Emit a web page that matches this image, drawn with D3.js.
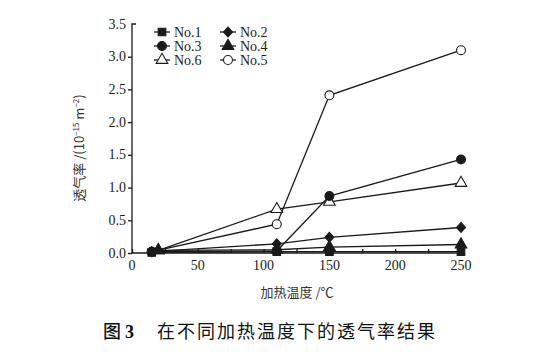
<!DOCTYPE html>
<html><head><meta charset="utf-8">
<script src="https://cdn.jsdelivr.net/npm/d3@7"></script>
<style>body{margin:0;background:#fff}svg{display:block}</style>
</head><body><svg id="c" width="534" height="356"></svg>
<script>
const seriesNames = ["No.1","No.2","No.3","No.4","No.6","No.5"];
const temps1 = [15,110,150,250];
const temps2 = [20,110,150,250];
const no1 = [0.01,0.02,0.02,0.02];
const no2 = [0.02,0.14,0.24,0.39];
const no3 = [0.02,0.03,0.87,1.43];
const no4 = [0.04,0.05,0.09,0.13];
const no5 = [0.02,0.44,2.41,3.10];
const no6 = [0.04,0.67,0.78,1.07];
const xTicks = [0,50,100,150,200,250];
const yTicks = [0,0.5,1,1.5,2,2.5,3,3.5];

const series = [
  {name:"No.1", x:temps1, y:no1, sym:"square", fill:true},
  {name:"No.2", x:temps1, y:no2, sym:"diamond", fill:true},
  {name:"No.3", x:temps1, y:no3, sym:"circle", fill:true},
  {name:"No.4", x:temps2, y:no4, sym:"triangle", fill:true},
  {name:"No.6", x:temps2, y:no6, sym:"triangle", fill:false},
  {name:"No.5", x:temps1, y:no5, sym:"circle", fill:false}
];

const svg = d3.select("#c");
const X = d3.scaleLinear().domain([0,250]).range([132,461]);
const Y = d3.scaleLinear().domain([0,3.5]).range([253,24]);
const ink = "#1a1a1a";
const serif = "'Liberation Serif','Times New Roman',serif";
const cjk = "'Noto Sans CJK SC',sans-serif";

function symPath(s){
  if(s==="diamond") return "M0,-5L4.5,0L0,5L-4.5,0Z";
  const m = {square:[d3.symbolSquare,58],circle:[d3.symbolCircle,62],triangle:[d3.symbolTriangle,58]}[s];
  return d3.symbol().type(m[0]).size(m[1])();
}
function drawMarker(g, s, cx, cy){
  g.append("path").attr("d", symPath(s.sym))
   .attr("transform",`translate(${cx},${cy})`)
   .attr("fill", s.fill ? ink : "#fff").attr("stroke", ink).attr("stroke-width",1.1);
}

// axes
const xAxis = svg.append("g").attr("transform","translate(0,253)")
  .call(d3.axisBottom(X).tickValues(d3.range(0,251,25)).tickSize(-4).tickFormat(""));
xAxis.select(".domain").attr("d",`M${X(0)},0H${X(250)+4}`);
xAxis.selectAll("line,path").attr("stroke",ink).attr("stroke-width",1.3);
svg.append("g").selectAll("text").data(xTicks).join("text")
  .attr("x",d=>X(d)).attr("y",270).attr("text-anchor","middle")
  .attr("font-family",serif).attr("font-size",14).attr("fill","#222").text(d=>d);

const yAxis = svg.append("g").attr("transform","translate(132,0)")
  .call(d3.axisLeft(Y).tickValues(yTicks.slice(0,-1)).tickSize(4).tickFormat(""));
yAxis.select(".domain").attr("d",`M4,${Y(3.5)}H0V${Y(0)}`);
yAxis.selectAll("line,path").attr("stroke",ink).attr("stroke-width",1.3).attr("fill","none");
svg.append("g").selectAll("text").data(yTicks).join("text")
  .attr("x",126).attr("y",d=>Y(d)+4.5).attr("text-anchor","end")
  .attr("font-family",serif).attr("font-size",14).attr("fill","#222").text(d=>d.toFixed(1));

// lines
const line = d3.line().x(d=>X(d[0])).y(d=>Y(d[1]));
series.forEach(s=>{
  svg.append("path").attr("d", line(s.x.map((v,i)=>[v,s.y[i]])))
    .attr("fill","none").attr("stroke",ink).attr("stroke-width",1.3);
});
// markers: open first, filled on top
[...series.filter(s=>!s.fill), ...series.filter(s=>s.fill)].forEach(s=>{
  const g = svg.append("g");
  s.x.forEach((v,i)=>drawMarker(g, s, X(v), Y(s.y[i])));
});

// legend
const legPos = [[0,0],[1,0],[0,1],[1,1],[0,2],[1,2]];
series.forEach((s,i)=>{
  const [c,r] = legPos[i];
  const lx = 154 + c*66, ly = 32 + r*14;
  const g = svg.append("g");
  g.append("line").attr("x1",lx).attr("x2",lx+16).attr("y1",ly).attr("y2",ly).attr("stroke",ink).attr("stroke-width",1.3);
  drawMarker(g, s, lx+8, ly);
  g.append("text").attr("x",lx+20).attr("y",ly+4.5).attr("font-family",serif).attr("font-size",14).attr("fill","#222").text(s.name);
});

// axis titles
svg.append("text").attr("x",297).attr("y",297).attr("text-anchor","middle")
  .attr("font-family",cjk).attr("font-size",13).attr("fill","#333").text("加热温度 /℃");
const yl = svg.append("text").attr("transform","translate(84,148) rotate(-90)").attr("text-anchor","middle")
  .attr("font-family",cjk).attr("font-size",13).attr("fill","#333");
yl.append("tspan").text("透气率 /(10");
yl.append("tspan").attr("font-size",8).attr("dy",-5).text("−15");
yl.append("tspan").attr("dy",5).text(" m");
yl.append("tspan").attr("font-size",8).attr("dy",-5).text("−2");
yl.append("tspan").attr("dy",5).text(")");

// caption
const cap = svg.append("text").attr("x",103).attr("y",338).attr("font-size",18).attr("fill","#111");
cap.append("tspan").attr("font-family",cjk).attr("font-weight",500).text("图 ");
cap.append("tspan").attr("font-family",serif).attr("font-weight","bold").text("3");
cap.append("tspan").attr("x",157).attr("font-family",cjk).attr("letter-spacing",2).text("在不同加热温度下的透气率结果");
</script></body></html>
